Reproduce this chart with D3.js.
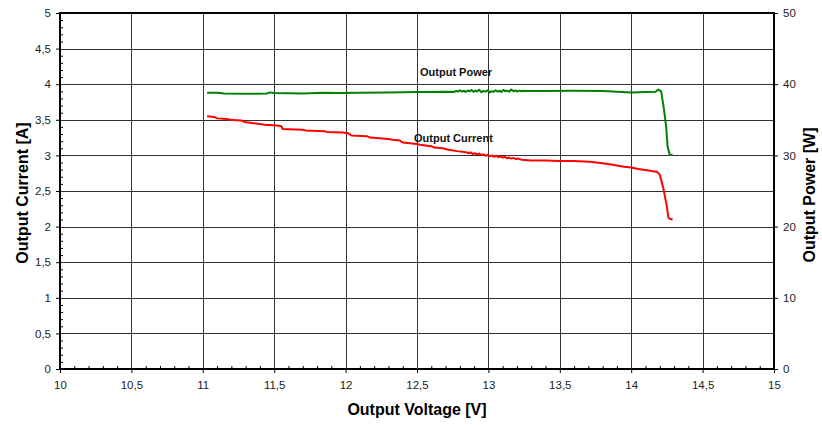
<!DOCTYPE html>
<html>
<head>
<meta charset="utf-8">
<script src="https://cdn.jsdelivr.net/npm/d3@7"></script>
<style>
  html, body { margin: 0; padding: 0; background: #fff; }
  svg { display: block; font-family: Arial, "Liberation Sans", sans-serif; }
</style>
</head>
<body>
<svg id="chart" width="822" height="425"></svg>
<script>
// ---- data ----
const xTicks = [10, 10.5, 11, 11.5, 12, 12.5, 13, 13.5, 14, 14.5, 15];
const yLeftTicks = [0, 0.5, 1, 1.5, 2, 2.5, 3, 3.5, 4, 4.5, 5];
const yRightTicks = [0, 10, 20, 30, 40, 50];

const currentVoltage = [11.03, 11.08, 11.10, 11.17, 11.19, 11.27, 11.29, 11.33, 11.40, 11.43, 11.52, 11.55, 11.56, 11.70, 11.72, 11.85, 11.87, 11.98, 12.02, 12.04, 12.15, 12.17, 12.30, 12.33, 12.38, 12.40, 12.50, 12.52, 12.60, 12.62, 12.68, 12.72, 12.78, 12.82,
  12.85, 12.865, 12.875, 12.89, 12.905, 12.92, 12.935, 12.95, 12.965, 12.98, 12.995, 13.01, 13.025, 13.04, 13.055, 13.07, 13.085, 13.10, 13.115, 13.13, 13.145, 13.16, 13.175, 13.19, 13.21, 13.23, 13.26,
  13.30, 13.40, 13.50, 13.60, 13.71, 13.80, 13.87, 13.95, 14.00, 14.05, 14.11, 14.14, 14.18, 14.20, 14.225, 14.25, 14.26, 14.27, 14.29];
const currentValues = [3.55, 3.54, 3.52, 3.51, 3.50, 3.49, 3.47, 3.46, 3.44, 3.43, 3.42, 3.41, 3.37, 3.36, 3.35, 3.34, 3.33, 3.32, 3.31, 3.28, 3.27, 3.25, 3.23, 3.22, 3.21, 3.18, 3.16, 3.15, 3.13, 3.11, 3.10, 3.08, 3.06, 3.05,
  3.04, 3.03, 3.045, 3.02, 3.03, 3.015, 3.025, 3.005, 3.015, 2.995, 3.005, 2.99, 3.00, 2.98, 2.995, 2.975, 2.985, 2.97, 2.98, 2.96, 2.97, 2.955, 2.965, 2.95, 2.955, 2.94, 2.935,
  2.93, 2.93, 2.92, 2.92, 2.91, 2.89, 2.87, 2.84, 2.83, 2.81, 2.79, 2.78, 2.77, 2.73, 2.54, 2.28, 2.13, 2.11, 2.10];

const powerVoltage = [11.03, 11.10, 11.15, 11.30, 11.45, 11.47, 11.50, 11.70, 11.85, 11.95, 12.10, 12.30, 12.50, 12.70,
  12.76, 12.775, 12.79, 12.80, 12.815, 12.83, 12.84, 12.855, 12.87, 12.88, 12.895, 12.91, 12.92, 12.935, 12.95, 12.965, 12.98, 12.995, 13.01, 13.02, 13.035, 13.05, 13.065, 13.08, 13.09, 13.105, 13.12, 13.13, 13.145, 13.16, 13.175, 13.19, 13.20, 13.215, 13.23, 13.245, 13.26,
  13.40, 13.60, 13.80, 13.90, 14.00, 14.10, 14.17, 14.19, 14.21, 14.23, 14.245, 14.255, 14.27, 14.29];
const powerValues = [38.8, 38.8, 38.7, 38.65, 38.7, 38.85, 38.75, 38.7, 38.8, 38.75, 38.8, 38.85, 38.9, 38.95,
  38.92, 39.05, 38.98, 39.15, 38.95, 39.08, 38.9, 39.12, 39.0, 39.2, 38.93, 39.1, 38.98, 39.22, 38.88, 39.05, 38.95, 39.12, 38.85, 39.0, 38.92, 39.15, 38.95, 39.08, 38.9, 39.2, 39.0, 39.1, 38.95, 39.25, 39.02, 39.12, 38.98, 39.1, 39.0, 39.08, 39.04,
  39.05, 39.08, 39.05, 38.95, 38.85, 38.9, 38.95, 39.25, 39.0, 36.4, 34.0, 31.2, 30.1, 30.05];

// ---- layout ----
const svg = d3.select("#chart");
const L = 60, R = 774, T = 13, B = 369;
const x = d3.scaleLinear().domain([10, 15]).range([L, R]);
const yL = d3.scaleLinear().domain([0, 5]).range([B, T]);
const yR = d3.scaleLinear().domain([0, 50]).range([B, T]);
const fmt = d => String(d).replace(".", ",");

// gridlines
const grid = svg.append("g").attr("shape-rendering", "crispEdges");
grid.selectAll(".gx").data(xTicks.slice(1, -1)).enter().append("line")
  .attr("x1", d => Math.round(x(d)) + 0.5).attr("x2", d => Math.round(x(d)) + 0.5)
  .attr("y1", T).attr("y2", B).attr("stroke", "#333").attr("stroke-width", 1);
grid.selectAll(".gy").data(yLeftTicks.slice(1, -1)).enter().append("line")
  .attr("y1", d => Math.round(yL(d)) + 0.5).attr("y2", d => Math.round(yL(d)) + 0.5)
  .attr("x1", L).attr("x2", R).attr("stroke", "#333").attr("stroke-width", 1);

// axes
const axisStyle = g => {
  g.selectAll("path").remove();
  g.selectAll("line").attr("stroke", "#000");
  g.selectAll("text").attr("fill", "#222").style("font-size", "11.5px")
    .style("font-family", "Arial, 'Liberation Sans', sans-serif");
};
// minor ticks (inside)
const xMinor = d3.range(0, 51).map(i => 10 + i * 0.1).filter((d, i) => i % 5 !== 0);
svg.append("g").attr("transform", `translate(0,${B})`)
  .call(d3.axisTop(x).tickValues(xMinor).tickSize(3).tickFormat(""))
  .call(g => { g.select("path").remove(); g.selectAll("line").attr("stroke", "#000"); });
const yMinor = d3.range(0, 51).map(i => i * 0.1).filter((d, i) => i % 5 !== 0);
svg.append("g").attr("transform", `translate(${L},0)`)
  .call(d3.axisRight(yL).tickValues(yMinor).tickSize(3).tickFormat(""))
  .call(g => { g.select("path").remove(); g.selectAll("line").attr("stroke", "#000"); });

svg.append("g").attr("transform", `translate(0,${B})`)
  .call(d3.axisBottom(x).tickValues(xTicks).tickSize(4).tickPadding(8).tickFormat(fmt))
  .call(axisStyle);
svg.append("g").attr("transform", `translate(${L},0)`)
  .call(d3.axisLeft(yL).tickValues(yLeftTicks).tickSize(4).tickPadding(5).tickFormat(fmt))
  .call(axisStyle);
svg.append("g").attr("transform", `translate(${R},0)`)
  .call(d3.axisRight(yR).tickValues(yRightTicks).tickSize(4).tickPadding(5).tickFormat(fmt))
  .call(axisStyle);

// frame
svg.append("rect").attr("x", L).attr("y", T).attr("width", R - L).attr("height", B - T)
  .attr("fill", "none").attr("stroke", "#000").attr("stroke-width", 2);

// lines
const lineCur = d3.line().x(d => x(d[0])).y(d => yL(d[1]));
const linePow = d3.line().x(d => x(d[0])).y(d => yR(d[1]));
svg.append("path").datum(d3.zip(powerVoltage, powerValues)).attr("d", linePow)
  .attr("fill", "none").attr("stroke", "#008000").attr("stroke-width", 2).attr("stroke-linejoin", "round");
svg.append("path").datum(d3.zip(currentVoltage, currentValues)).attr("d", lineCur)
  .attr("fill", "none").attr("stroke", "#ff0000").attr("stroke-width", 2).attr("stroke-linejoin", "round");

// in-chart labels
svg.append("text").attr("x", 420).attr("y", 76).text("Output Power")
  .attr("font-weight", "bold").attr("font-size", "11px").attr("fill", "#111");
svg.append("text").attr("x", 414).attr("y", 142).text("Output Current")
  .attr("font-weight", "bold").attr("font-size", "11px").attr("fill", "#111");

// axis titles
svg.append("text").attr("x", (L + R) / 2).attr("y", 415).attr("text-anchor", "middle")
  .attr("font-weight", "bold").attr("font-size", "16px").text("Output Voltage [V]");
svg.append("text").attr("transform", "translate(28,193) rotate(-90)").attr("text-anchor", "middle")
  .attr("font-weight", "bold").attr("font-size", "16px").text("Output Current [A]");
svg.append("text").attr("transform", "translate(815,195) rotate(-90)").attr("text-anchor", "middle")
  .attr("font-weight", "bold").attr("font-size", "16px").text("Output Power [W]");
</script>
</body>
</html>
